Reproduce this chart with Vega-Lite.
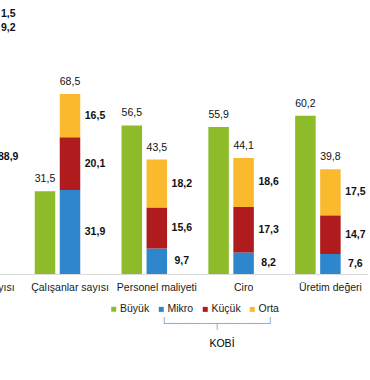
{
  "$schema": "https://vega.github.io/schema/vega-lite/v6.json",
  "width": 370,
  "height": 274,
  "autosize": {"type": "none"},
  "padding": {"left": 0, "top": 0, "right": 0, "bottom": 106},
  "background": "white",
  "config": {
    "locale": {"number": {"decimal": ",", "thousands": ".", "grouping": [3], "currency": ["", ""]}},
    "view": {"stroke": null},
    "font": "Liberation Sans"
  },
  "title": {
    "text": "KOBİ",
    "orient": "bottom",
    "anchor": "middle",
    "frame": "group",
    "dx": 37,
    "offset": 10,
    "baseline": "top",
    "font": "Liberation Sans",
    "fontSize": 10.5,
    "fontWeight": "normal",
    "color": "#000000"
  },
  "data": {
    "values": [
      {"kategori": "Girişim sayısı", "grup": "Büyük", "sinif": "Büyük", "sira": 0, "deger": 0.4},
      {"kategori": "Girişim sayısı", "grup": "KOBİ", "sinif": "Mikro", "sira": 1, "deger": 88.9},
      {"kategori": "Girişim sayısı", "grup": "KOBİ", "sinif": "Küçük", "sira": 2, "deger": 9.2},
      {"kategori": "Girişim sayısı", "grup": "KOBİ", "sinif": "Orta", "sira": 3, "deger": 1.5},
      {"kategori": "Çalışanlar sayısı", "grup": "Büyük", "sinif": "Büyük", "sira": 0, "deger": 31.5},
      {"kategori": "Çalışanlar sayısı", "grup": "KOBİ", "sinif": "Mikro", "sira": 1, "deger": 31.9},
      {"kategori": "Çalışanlar sayısı", "grup": "KOBİ", "sinif": "Küçük", "sira": 2, "deger": 20.1},
      {"kategori": "Çalışanlar sayısı", "grup": "KOBİ", "sinif": "Orta", "sira": 3, "deger": 16.5},
      {"kategori": "Personel maliyeti", "grup": "Büyük", "sinif": "Büyük", "sira": 0, "deger": 56.5},
      {"kategori": "Personel maliyeti", "grup": "KOBİ", "sinif": "Mikro", "sira": 1, "deger": 9.7},
      {"kategori": "Personel maliyeti", "grup": "KOBİ", "sinif": "Küçük", "sira": 2, "deger": 15.6},
      {"kategori": "Personel maliyeti", "grup": "KOBİ", "sinif": "Orta", "sira": 3, "deger": 18.2},
      {"kategori": "Ciro", "grup": "Büyük", "sinif": "Büyük", "sira": 0, "deger": 55.9},
      {"kategori": "Ciro", "grup": "KOBİ", "sinif": "Mikro", "sira": 1, "deger": 8.2},
      {"kategori": "Ciro", "grup": "KOBİ", "sinif": "Küçük", "sira": 2, "deger": 17.3},
      {"kategori": "Ciro", "grup": "KOBİ", "sinif": "Orta", "sira": 3, "deger": 18.6},
      {"kategori": "Üretim değeri", "grup": "Büyük", "sinif": "Büyük", "sira": 0, "deger": 60.2},
      {"kategori": "Üretim değeri", "grup": "KOBİ", "sinif": "Mikro", "sira": 1, "deger": 7.6},
      {"kategori": "Üretim değeri", "grup": "KOBİ", "sinif": "Küçük", "sira": 2, "deger": 14.7},
      {"kategori": "Üretim değeri", "grup": "KOBİ", "sinif": "Orta", "sira": 3, "deger": 17.5}
    ]
  },
  "encoding": {
    "x": {
      "field": "kategori",
      "type": "nominal",
      "sort": ["Girişim sayısı", "Çalışanlar sayısı", "Personel maliyeti", "Ciro", "Üretim değeri"],
      "scale": {"range": [-54.3, 367.9], "paddingInner": 0.136, "paddingOuter": 0},
      "title": null,
      "axis": {
        "labelAngle": 0,
        "labelFont": "Liberation Sans",
        "labelFontSize": 10.5,
        "labelColor": "#1a1a1a",
        "ticks": false,
        "tickSize": 0,
        "labelPadding": 8,
        "domainColor": "#d9d9d9",
        "domainWidth": 1,
        "labelOverlap": false,
        "labelBound": false,
        "labelFlush": false,
        "labelLimit": 0
      }
    }
  },
  "layer": [
    {
      "transform": [{"filter": "datum.grup === 'Büyük'"}],
      "mark": {"type": "bar"},
      "encoding": {
        "xOffset": {"field": "grup", "type": "nominal", "scale": {"domain": ["Büyük", "KOBİ", "etiket"], "paddingInner": 0.18, "paddingOuter": 0.09}},
        "y": {"field": "deger", "type": "quantitative", "scale": {"domain": [0, 104.2], "nice": false, "zero": true}, "axis": null},
        "color": {
          "field": "sinif",
          "type": "nominal",
          "scale": {"domain": ["Büyük"], "range": ["#8DBB2A"]},
          "legend": {
            "orient": "none",
            "legendX": 108.5,
            "legendY": 304,
            "direction": "horizontal",
            "title": null,
            "padding": 0,
            "symbolType": "square",
            "symbolSize": 25,
            "symbolStrokeWidth": 0,
            "labelOffset": 1,
            "labelFont": "Liberation Sans",
            "labelFontSize": 10.5,
            "labelColor": "#1a1a1a"
          }
        }
      }
    },
    {
      "transform": [
        {"filter": "datum.grup === 'KOBİ'"},
        {"stack": "deger", "groupby": ["kategori"], "sort": [{"field": "sira", "order": "ascending"}], "as": ["alt", "ust"]}
      ],
      "mark": {"type": "bar"},
      "encoding": {
        "xOffset": {"field": "grup", "type": "nominal"},
        "y": {"field": "alt", "type": "quantitative"},
        "y2": {"field": "ust"},
        "fill": {
          "field": "sinif",
          "type": "nominal",
          "scale": {"domain": ["Mikro", "Küçük", "Orta"], "range": ["#2E86CC", "#B01B1E", "#FBB92D"]},
          "legend": {
            "orient": "none",
            "legendX": 156,
            "legendY": 304,
            "direction": "horizontal",
            "title": "└───────┬───────┘",
            "titleOrient": "bottom",
            "titleAnchor": "middle",
            "titleFont": "DejaVu Sans",
            "titleFontSize": 11,
            "titleFontWeight": "normal",
            "titleColor": "#8FA9C9",
            "titlePadding": 3,
            "padding": 0,
            "columnPadding": 6,
            "symbolType": "square",
            "symbolSize": 25,
            "symbolStrokeWidth": 0,
            "labelOffset": 1,
            "labelFont": "Liberation Sans",
            "labelFontSize": 10.5,
            "labelColor": "#1a1a1a"
          }
        }
      }
    },
    {
      "transform": [{"filter": "datum.grup === 'Büyük'"}],
      "mark": {"type": "text", "baseline": "alphabetic", "dy": -9, "font": "Liberation Sans", "fontSize": 10.5, "color": "#111111"},
      "encoding": {
        "xOffset": {"field": "grup", "type": "nominal"},
        "y": {"field": "deger", "type": "quantitative"},
        "text": {"field": "deger", "type": "quantitative", "format": ".1f"}
      }
    },
    {
      "transform": [
        {"filter": "datum.grup === 'KOBİ'"},
        {"aggregate": [{"op": "sum", "field": "deger", "as": "toplam"}], "groupby": ["kategori", "grup"]}
      ],
      "mark": {"type": "text", "baseline": "alphabetic", "dy": -9, "font": "Liberation Sans", "fontSize": 10.5, "color": "#111111"},
      "encoding": {
        "xOffset": {"field": "grup", "type": "nominal"},
        "y": {"field": "toplam", "type": "quantitative"},
        "text": {"field": "toplam", "type": "quantitative", "format": ".1f"}
      }
    },
    {
      "transform": [
        {"filter": "datum.grup === 'KOBİ'"},
        {"stack": "deger", "groupby": ["kategori"], "sort": [{"field": "sira", "order": "ascending"}], "as": ["alt", "ust"]},
        {"fold": ["alt", "ust"], "as": ["kenar", "konum"]}
      ],
      "mark": {"type": "text", "baseline": "middle", "font": "Liberation Sans", "fontSize": 10.5, "fontWeight": "bold", "color": "#111111"},
      "encoding": {
        "xOffset": {"datum": "etiket"},
        "y": {"aggregate": "mean", "field": "konum", "type": "quantitative"},
        "detail": {"field": "sinif"},
        "text": {"field": "deger", "type": "quantitative", "format": ".1f"}
      }
    }
  ]
}
